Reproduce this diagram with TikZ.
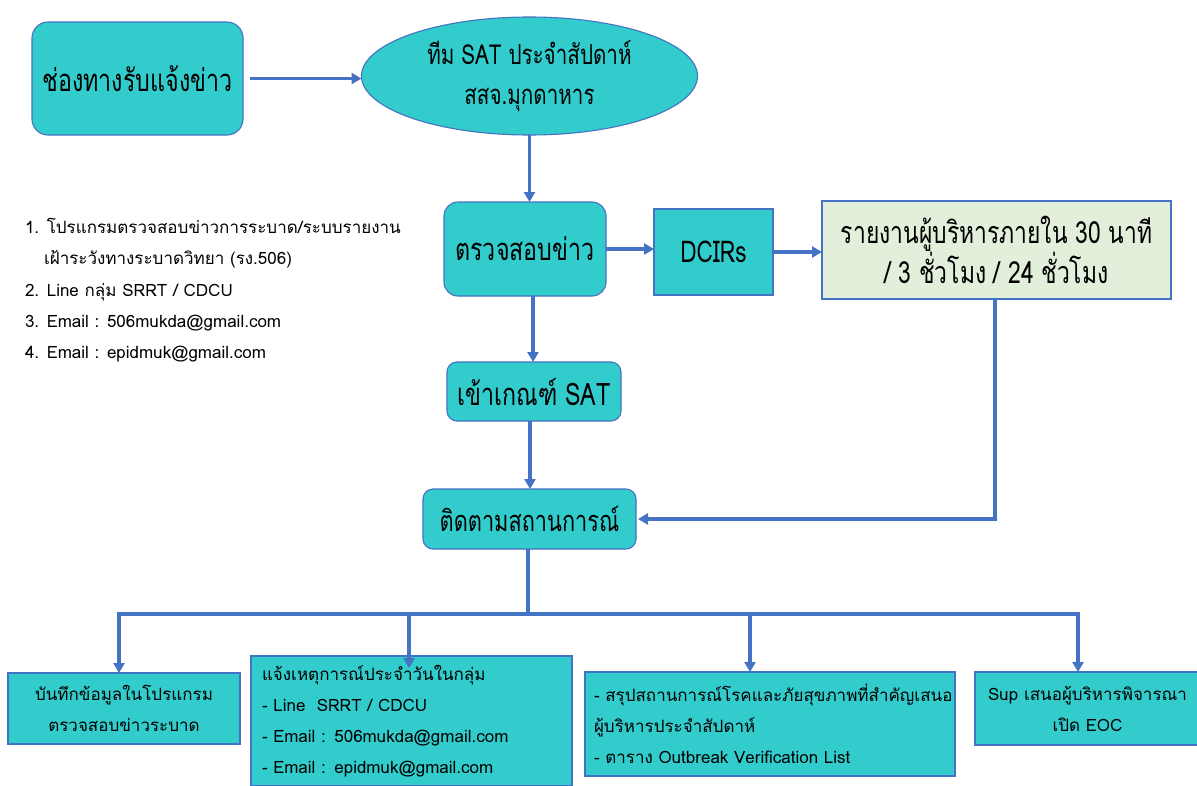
\documentclass[tikz,border=0pt]{standalone}
\usepackage{fontspec}
\setmainfont[Script=Thai]{Loma}
\newfontfamily\headfont[Script=Thai,FakeStretch=0.75]{Loma}
\usetikzlibrary{arrows.meta,shapes.geometric}
\definecolor{boxteal}{RGB}{51,204,204}
\definecolor{boxgreen}{RGB}{226,239,218}
\definecolor{edgeblue}{RGB}{68,114,196}
\definecolor{linkblue}{RGB}{68,114,196}
\newcommand\headsize[2]{\headfont\fontsize{#1}{#2}\selectfont}
\begin{document}
\begin{tikzpicture}[x=1pt,y=-1pt,
  every node/.style={inner sep=0pt, outer sep=0pt},
  tealbox/.style={draw=edgeblue, line width=1.1pt, fill=boxteal},
  roundbox/.style={tealbox, rounded corners=12pt},
  headtext/.style={font=\headsize{30}{40}, align=center},
  bodytext/.style={font=\fontsize{17}{31}\selectfont},
  listline/.style={bodytext, anchor=base west},
  link/.style={draw=linkblue, line width=3.4pt},
  arr/.style={link, -{Triangle[length=10pt,width=11pt]}},
]
\useasboundingbox (0,0) rectangle (1197,785);
\fill[white] (0,0) rectangle (1197,785);

% upper flow
\node[roundbox, rounded corners=16pt, minimum width=211, minimum height=113, headtext, font=\headsize{31}{40}] (chan) at (137.5,78.5) {ช่องทางรับแจ้งข่าว};
\node[tealbox, ellipse, minimum width=336, minimum height=118, headtext, font=\headsize{27.5}{40}] (team) at (529.5,76) {ทีม SAT ประจำสัปดาห์\\สสจ.มุกดาหาร};
\node[roundbox, rounded corners=14pt, minimum width=162, minimum height=94, headtext, font=\headsize{31}{40}] (check) at (525,249) {ตรวจสอบข่าว};
\node[tealbox, minimum width=119, minimum height=86, headtext] (dcir) at (713.5,252) {DCIRs};
\node[draw=edgeblue, line width=1.1pt, fill=boxgreen, minimum width=349, minimum height=98, headtext, font=\headsize{30.5}{39}] (report) at (996.5,250) {รายงานผู้บริหารภายใน 30 นาที\\/ 3 ชั่วโมง / 24 ชั่วโมง};
\node[roundbox, rounded corners=10pt, minimum width=174, minimum height=59, headtext, font=\headsize{31}{40}] (sat) at (534,391.5) {เข้าเกณฑ์ SAT};
\node[roundbox, rounded corners=10pt, minimum width=213, minimum height=60, headtext, font=\headsize{29}{40}] (follow) at (529.5,519) {ติดตามสถานการณ์};

% channel list
\node[listline] (l1) at (25,233) {1. โปรแกรมตรวจสอบข่าวการระบาด/ระบบรายงาน};
\node[listline] (l1b) at (44,264) {เฝ้าระวังทางระบาดวิทยา (รง.506)};
\node[listline] (l2) at (25,296) {2. Line กลุ่ม SRRT / CDCU};
\node[listline] (l3) at (25,327) {3. Email : 506mukda@gmail.com};
\node[listline] (l4) at (25,358) {4. Email : epidmuk@gmail.com};

% lower outcomes
\node[tealbox, minimum width=232, minimum height=71, bodytext, align=center] (rec) at (124,708.5) {บันทึกข้อมูลในโปรแกรม\\ตรวจสอบข่าวระบาด};
\node[tealbox, minimum width=321, minimum height=130, bodytext, align=left, text width=299] (notify) at (411.5,721) {แจ้งเหตุการณ์ประจำวันในกลุ่ม\\- Line\ \ SRRT / CDCU\\- Email : 506mukda@gmail.com\\- Email : epidmuk@gmail.com};
\node[tealbox, minimum width=370, minimum height=104, bodytext, align=left, text width=352] (summ) at (770,724) {- สรุปสถานการณ์โรคและภัยสุขภาพที่สำคัญเสนอ\\ผู้บริหารประจำสัปดาห์\\- ตาราง Outbreak Verification List};
\node[tealbox, minimum width=225, minimum height=73, bodytext, align=center] (eoc) at (1087.5,708.5) {Sup เสนอผู้บริหารพิจารณา\\เปิด EOC};

% connectors
\draw[arr, shorten <=7pt] (chan.east) -- (chan.east -| team.west);
\draw[arr] (team.south) -- (team.south |- check.north);
\draw[arr] (check.east) -- (check.east -| dcir.west);
\draw[arr] (dcir.east) -- (dcir.east -| report.west);
\draw[arr] ([xshift=8pt]check.south) -- ([xshift=8pt]check.south |- sat.north);
\draw[arr] ([xshift=-4pt]sat.south) -- ([xshift=-4pt]sat.south |- follow.north);
\draw[arr] ([xshift=-1.5pt]report.south) |- ([xshift=2pt]follow.east);

\coordinate (bus) at (528,614);
\draw[link] (follow.south -| bus) -- (bus);
\draw[arr] (bus) -| ([xshift=-5pt]rec.north);
\draw[arr] (bus) -| ([xshift=-2.5pt,yshift=-12pt]notify.north);
\draw[arr] (bus) -| ([xshift=-20pt]summ.north);
\draw[arr] (bus) -| ([xshift=-9.5pt]eoc.north);
\end{tikzpicture}
\end{document}
